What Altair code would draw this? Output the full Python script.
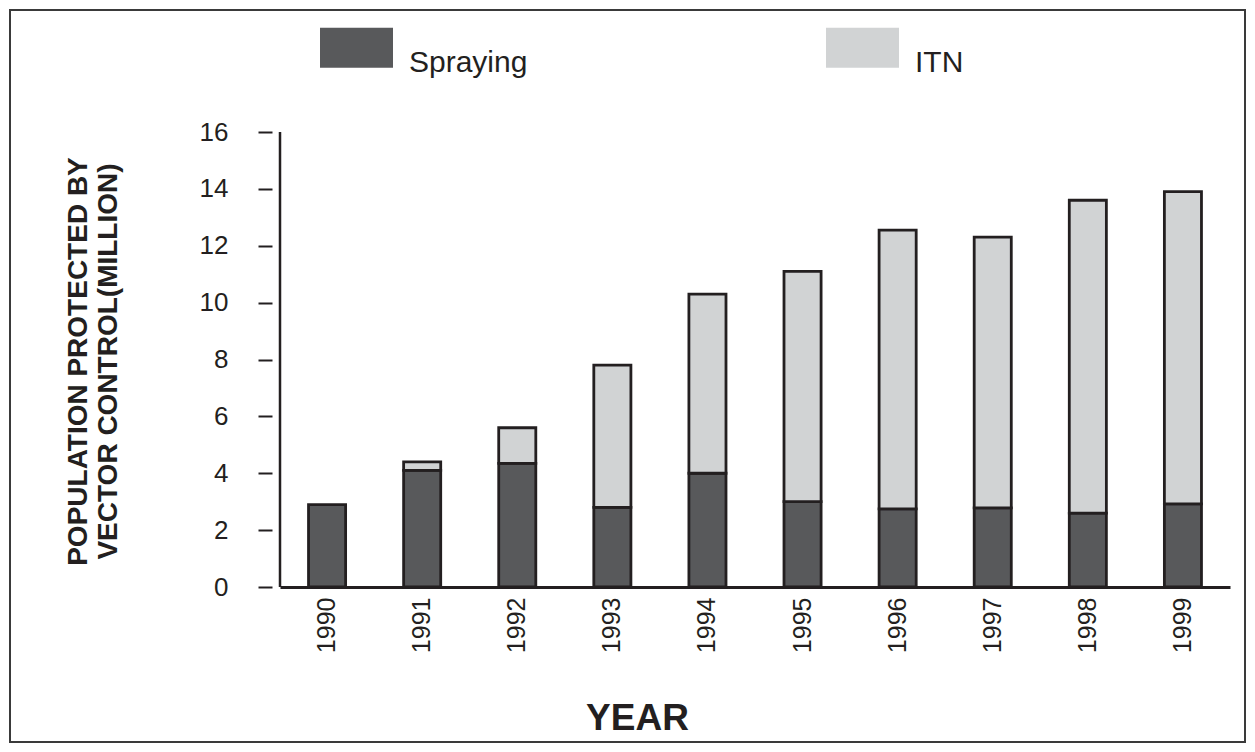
import altair as alt
import pandas as pd

FONT = "Liberation Sans"
INK = "#231f20"

years = ["1990", "1991", "1992", "1993", "1994", "1995", "1996", "1997", "1998", "1999"]
spraying = [2.9, 4.1, 4.35, 2.8, 4.0, 3.0, 2.75, 2.78, 2.6, 2.92]
itn = [0.0, 0.3, 1.25, 5.0, 6.3, 8.1, 9.8, 9.52, 11.0, 10.98]
series = ["Spraying", "ITN"]
colors = ["#58595b", "#d1d3d4"]
y_ticks = [0, 2, 4, 6, 8, 10, 12, 14, 16]

rows = []
for i, yr in enumerate(years):
    rows.append({"year": yr, "series": "Spraying", "value": spraying[i], "rank": 0})
    if itn[i] > 0:
        rows.append({"year": yr, "series": "ITN", "value": itn[i], "rank": 1})
df = pd.DataFrame(rows)
one = pd.DataFrame({"k": [0]})

legend = alt.Legend(
    orient="none", legendX=40, legendY=-121, direction="horizontal", title=None,
    symbolType="M-1,-0.55H1V0.55H-1Z", symbolSize=5329, symbolStrokeWidth=0,
    symbolOpacity=1, labelFont=FONT, labelFontSize=30, labelColor=INK,
    labelOffset=16, labelBaseline="top", columnPadding=298, padding=0,
)

x_axis = alt.Axis(
    domain=True, domainColor=INK, domainWidth=3, ticks=False,
    labelAngle=-90, labelFont=FONT, labelFontSize=25, labelColor=INK, labelPadding=10,
    title="YEAR", titleFont=FONT, titleFontSize=37, titleFontWeight="bold", titleColor=INK,
    titleX=357, titleY=131, titleAlign="center", titleBaseline="middle",
)

y_axis = alt.Axis(
    values=y_ticks, domain=False, offset=8, tickSize=14, tickWidth=2, tickColor=INK,
    labelFont=FONT, labelFontSize=26, labelColor=INK, labelPadding=30, grid=False,
    title=["POPULATION PROTECTED BY", "VECTOR CONTROL(MILLION)"],
    titleFont=FONT, titleFontSize=28, titleFontWeight="bold", titleColor=INK,
    titleLineHeight=30, titleX=-194, titleY=229, titleAngle=-90,
    titleAlign="center", titleBaseline="middle",
)

bars = alt.Chart(df).mark_bar(stroke=INK, strokeWidth=2.8).encode(
    x=alt.X("year:N", sort=years, scale=alt.Scale(paddingInner=0.61, paddingOuter=0.3), axis=x_axis),
    y=alt.Y("value:Q", stack="zero", scale=alt.Scale(domain=[0, 16], nice=False), axis=y_axis),
    fill=alt.Fill("series:N", scale=alt.Scale(domain=series, range=colors), legend=legend),
    order=alt.Order("rank:Q"),
)

yline = alt.Chart(one).mark_rule(color=INK, strokeWidth=2.5).encode(
    x=alt.value(0), y=alt.datum(0), y2=alt.datum(16)
)

border = alt.Chart(one).mark_rect(filled=False, stroke="#3a3a3a", strokeWidth=2).encode(
    x=alt.value(-270), x2=alt.value(965), y=alt.value(-122), y2=alt.value(610)
)

chart = alt.layer(border, bars, yline).properties(
    width=950, height=455,
    autosize=alt.AutoSizeParams(type="none"),
    padding={"left": 272, "top": 124, "right": 17, "bottom": 156},
    background="white",
).configure_view(stroke=None)

chart.save("out.html", embed_options={"renderer": "svg", "actions": False})
